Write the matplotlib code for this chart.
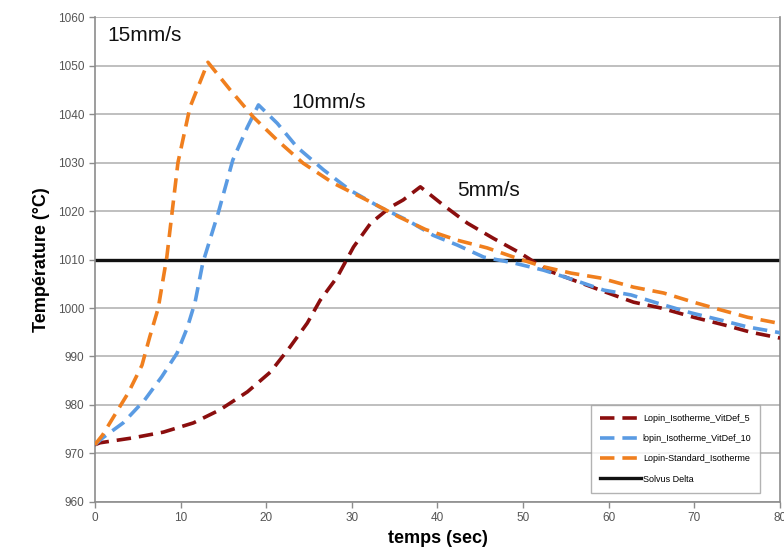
import matplotlib

matplotlib.use("Agg")
import matplotlib.pyplot as plt

plt.rcParams["font.family"] = ["Liberation Sans", "DejaVu Sans"]

# 5 mm/s
t_5 = [0, 0.6, 4.4, 8, 11.5, 14.6, 17.8, 20.5, 22.8, 24.8, 26.3, 28.3, 30.2, 32.2,
       34.5, 36, 38, 40.7, 43.5, 46.5, 49.7, 52.8, 56.4, 59.6, 62.9, 66.1, 69.9,
       73.5, 76.6, 80]
T_5 = [971.8, 972.2, 973.2, 974.4, 976.3, 979, 982.7, 986.8, 992, 996.9, 1001.6,
       1006.4, 1012.6, 1017.5, 1020.8, 1022.3, 1025, 1021.2, 1017.5, 1014.4, 1011.3,
       1007.8, 1005.4, 1003.3, 1001.2, 1000, 998.1, 996.5, 995, 993.8]

# 10 mm/s
t_10 = [0, 0.9, 3.3, 5.8, 7.8, 9.6, 10.8, 11.7, 12.6, 14.4, 16.1, 17.8, 19.1, 21.3,
        23.6, 26.7, 29.8, 33.3, 36.5, 39.5, 42.3, 45.4, 48.9, 52.4, 55.9, 59.4,
        62.6, 65.7, 69.6, 73.1, 76.2, 80]
T_10 = [971.8, 973.2, 976.3, 981, 985.8, 990.7, 996, 1001.2, 1009.3, 1019.6, 1030.5,
        1037.3, 1041.9, 1038.1, 1033.2, 1028.5, 1024.3, 1020.8, 1018.1, 1015, 1013,
        1010.5, 1009.3, 1007.8, 1005.8, 1003.7, 1002.7, 1001, 999, 997.5, 996.1, 994.9]

# 15 mm/s
t_15 = [0, 0.9, 2.1, 3.9, 5.5, 6.4, 7.4, 8.4, 9.7, 11.1, 13.2, 15.8, 18.5, 21.3,
        24.3, 27.8, 32.5, 35.5, 38.6, 42.3, 45.8, 48.9, 52.4, 55.6, 59, 62.9, 66.4,
        69.9, 73.1, 76.2, 80]
T_15 = [971.8, 973.8, 977.3, 982.5, 988.2, 994, 1000, 1010.5, 1030, 1041.4, 1050.7,
        1045, 1039.4, 1034.6, 1029.9, 1025.8, 1021.6, 1018.8, 1016.2, 1014, 1012.4,
        1010.5, 1008.5, 1007.2, 1006.2, 1004.3, 1003.1, 1001.2, 999.6, 998.1, 996.8]

solvus = 1010
series_names = ["Lopin_Isotherme_VitDef_5", "lopin_Isotherme_VitDef_10",
                "Lopin-Standard_Isotherme", "Solvus Delta"]
speed_labels = ["15mm/s", "10mm/s", "5mm/s"]
label_pos = [(1.5, 1056.3), (23, 1042.5), (42.3, 1024.3)]

DARK_RED = "#8b0e0e"
BLUE = "#5a9be3"
ORANGE = "#f07f1e"
GREY = "#8c8c8c"

fig = plt.figure(figsize=(7.84, 5.54), dpi=100)
ax = fig.add_axes([0.121, 0.094, 0.874, 0.875])

dash = (0, (4, 2.2))
ax.plot(t_5, T_5, color=DARK_RED, lw=2.6, ls=dash, label=series_names[0], zorder=3)
ax.plot(t_10, T_10, color=BLUE, lw=2.6, ls=dash, label=series_names[1], zorder=3)
ax.plot(t_15, T_15, color=ORANGE, lw=2.6, ls=dash, label=series_names[2], zorder=3)
ax.axhline(solvus, color="#111111", lw=2.4, label=series_names[3], zorder=2)

for txt, (x, y) in zip(speed_labels, label_pos):
    ax.text(x, y, txt, fontsize=15, va="center", ha="left", color="#111111")

ax.set_xlim(0, 80)
ax.set_ylim(960, 1060)
ax.set_xticks(range(0, 81, 10))
ax.set_yticks(range(960, 1061, 10))
ax.yaxis.grid(True, color="#b4b4b4", lw=1.2)
ax.set_axisbelow(True)
for side in ["top"]:
    ax.spines[side].set_visible(False)
for side in ["left", "bottom", "right"]:
    ax.spines[side].set_color(GREY)
    ax.spines[side].set_linewidth(1.2)
ax.tick_params(colors=GREY, labelcolor="#555555", labelsize=8.5, length=4, width=1)

ax.set_xlabel("temps (sec)", fontsize=13, fontweight="bold", labelpad=4)
ax.set_ylabel("Température (°C)", fontsize=13, fontweight="bold", labelpad=6)

leg = ax.legend(loc="lower right", bbox_to_anchor=(0.978, 0.01), fontsize=6.5,
                frameon=True, fancybox=False, edgecolor="#a0a0a0",
                handlelength=4.5, labelspacing=1.25, borderpad=1.0,
                handletextpad=0.2)
leg.get_frame().set_linewidth(1.0)

fig.savefig("out.png", dpi=100)
